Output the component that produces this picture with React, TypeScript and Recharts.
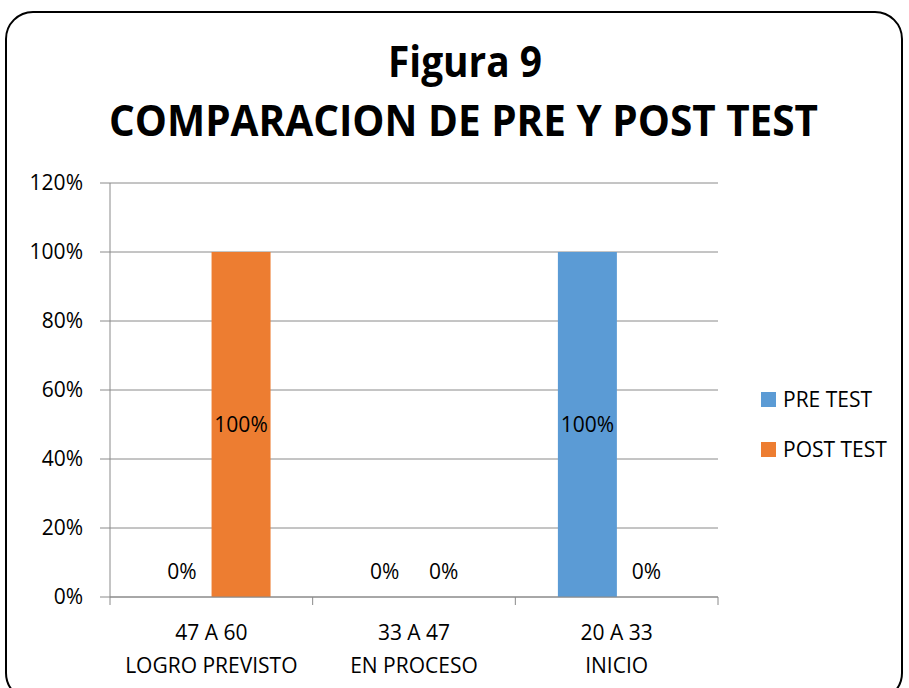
import React from "react";
import { BarChart, Bar, XAxis, YAxis, CartesianGrid, Legend, LabelList } from "recharts";

const rangeLabels = ["47 A 60", "33 A 47", "20 A 33"];
const levelLabels = ["LOGRO PREVISTO", "EN PROCESO", "INICIO"];
const preTest = [0, 0, 1];
const postTest = [1, 0, 0];
const yTicks = [0, 0.2, 0.4, 0.6, 0.8, 1.0, 1.2];
const titleLines = ["Figura 9", "COMPARACION DE PRE Y POST TEST"];
const seriesNames = ["PRE TEST", "POST TEST"];

const data = rangeLabels.map((r, i) => ({
  range: r,
  level: levelLabels[i],
  pre: preTest[i],
  post: postTest[i],
}));

const W = 909;
const H = 688;
const M = { top: 183, right: 191, bottom: 0, left: 0 };
const Y_AXIS_W = 110;
const X_AXIS_H = 91;
const PLOT_W = W - M.left - M.right - Y_AXIS_W;
const BAND = PLOT_W / rangeLabels.length;
const FONT = "'Open Sans', sans-serif";
const FS = 21;
const GRAY = "#8a8a8a";
const BLUE = "#5B9BD5";
const ORANGE = "#ED7D31";

const pct = (v: number) => `${Math.round(v * 100)}%`;
const tinyForZero = (v: any) => (Number(v) === 0 ? 0.01 : 0);

const XTick = (props: any) => {
  const { x, y, payload, index } = props;
  const d = data[index] || data.find((e) => e.range === payload.value);
  const isLast = index === rangeLabels.length - 1;
  return (
    <g>
      <line x1={x - BAND / 2} x2={x - BAND / 2} y1={y} y2={y + 8} stroke={GRAY} strokeWidth={1} />
      {isLast && <line x1={x + BAND / 2} x2={x + BAND / 2} y1={y} y2={y + 8} stroke={GRAY} strokeWidth={1} />}
      <text x={x} y={y + 43} textAnchor="middle" fontFamily={FONT} fontSize={FS} fill="#000">
        {payload.value}
      </text>
      <text x={x} y={y + 76} textAnchor="middle" fontFamily={FONT} fontSize={FS} fill="#000">
        {d ? d.level : ""}
      </text>
    </g>
  );
};

const BarLabel = (props: any) => {
  const { x, y, width, height, value } = props;
  const v = Number(value);
  const cy = v === 0 ? y + height - 25 : y + height / 2;
  return (
    <text x={x + width / 2} y={cy + FS * 0.357} textAnchor="middle" fontFamily={FONT} fontSize={FS} fill="#000">
      {pct(v)}
    </text>
  );
};

const LegendContent = (props: any) => {
  const items = [...(props.payload || [])].sort(
    (a: any, b: any) => seriesNames.indexOf(a.value) - seriesNames.indexOf(b.value)
  );
  return (
    <div style={{ fontFamily: FONT, fontSize: FS, color: "#000" }}>
      {items.map((it: any, i: number) => (
        <div key={i} style={{ display: "flex", alignItems: "center", height: 50 }}>
          <span style={{ display: "inline-block", width: 15, height: 15, background: it.color, marginRight: 7 }} />
          <span style={{ lineHeight: "24px" }}>{it.value}</span>
        </div>
      ))}
    </div>
  );
};

export default function App() {
  return (
    <div style={{ position: "absolute", left: 0, top: 0, width: W, height: H, overflow: "hidden", background: "#fff" }}>
      <div
        style={{
          position: "absolute",
          left: 5,
          top: 11,
          width: 898,
          height: 690,
          border: "2px solid #000",
          borderRadius: 28,
          boxSizing: "border-box",
        }}
      />
      <svg width={W} height={170} style={{ position: "absolute", left: 0, top: 0 }}>
        <text x={465} y={77} textAnchor="middle" fontFamily={FONT} fontWeight={700} fontSize={43} textLength={154} lengthAdjust="spacingAndGlyphs">
          {titleLines[0]}
        </text>
        <text x={463.5} y={136} textAnchor="middle" fontFamily={FONT} fontWeight={700} fontSize={43} textLength={709} lengthAdjust="spacingAndGlyphs">
          {titleLines[1]}
        </text>
      </svg>
      <div style={{ position: "absolute", left: 0, top: 0 }}>
        <BarChart width={W} height={H} data={data} margin={M} barCategoryGap="21%" barGap={0}>
          <CartesianGrid vertical={false} stroke={GRAY} strokeWidth={1} />
          <XAxis
            dataKey="range"
            height={X_AXIS_H}
            stroke={GRAY}
            tickLine={false}
            tickSize={0}
            tickMargin={0}
            interval={0}
            tick={<XTick />}
          />
          <YAxis
            width={Y_AXIS_W}
            domain={[0, 1.2]}
            ticks={yTicks}
            tickFormatter={pct}
            stroke={GRAY}
            tickSize={10}
            tickMargin={17}
            tick={{ fill: "#000", fontFamily: FONT, fontSize: FS }}
          />
          <Legend
            layout="vertical"
            align="center"
            verticalAlign="middle"
            wrapperStyle={{ position: "absolute", left: 761, top: 374, width: 140 }}
            content={<LegendContent />}
          />
          <Bar dataKey="pre" name={seriesNames[0]} fill={BLUE} minPointSize={tinyForZero} isAnimationActive={false}>
            <LabelList dataKey="pre" content={<BarLabel />} />
          </Bar>
          <Bar dataKey="post" name={seriesNames[1]} fill={ORANGE} minPointSize={tinyForZero} isAnimationActive={false}>
            <LabelList dataKey="post" content={<BarLabel />} />
          </Bar>
        </BarChart>
      </div>
    </div>
  );
}
